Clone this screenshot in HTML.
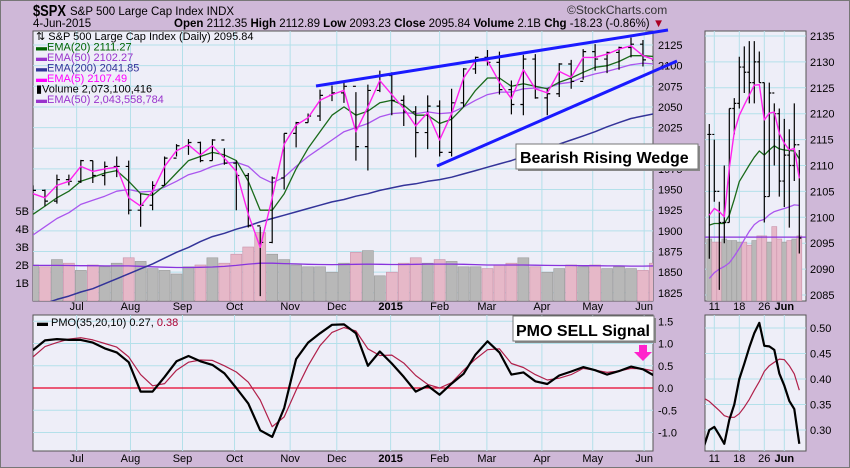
<!DOCTYPE html>
<html><head><meta charset="utf-8"><style>
html,body{margin:0;padding:0;background:#cfb8d8;}
svg{display:block;font-family:"Liberation Sans",sans-serif;}
</style></head><body>
<svg id="c" width="850" height="468" viewBox="0 0 850 468" xmlns="http://www.w3.org/2000/svg">
<defs>
<clipPath id="cm"><rect x="33" y="31" width="620" height="270"/></clipPath>
<clipPath id="cs"><rect x="705" y="31" width="101" height="270"/></clipPath>
<clipPath id="cp"><rect x="33" y="315" width="620" height="136"/></clipPath>
<clipPath id="cps"><rect x="705" y="315" width="101" height="136"/></clipPath>
</defs>
<rect x="0.5" y="0.5" width="849" height="467" fill="#cfb8d8" stroke="#777"/>
<g>
<text x="33" y="16" font-size="16" font-weight="bold" fill="#000" textLength="33" lengthAdjust="spacingAndGlyphs">$SPX</text>
<text x="70" y="15" font-size="11.5" fill="#000">S&amp;P 500 Large Cap Index  INDX</text>
<text x="33" y="27" font-size="11.5" fill="#000">4-Jun-2015</text>
<text x="174" y="27" font-size="11.5" fill="#000"><tspan font-weight="bold">Open</tspan> 2112.35 <tspan font-weight="bold">High</tspan> 2112.89 <tspan font-weight="bold">Low</tspan> 2093.23 <tspan font-weight="bold">Close</tspan> 2095.84 <tspan font-weight="bold">Volume</tspan> 2.1B <tspan font-weight="bold">Chg</tspan> -18.23 (-0.86%) <tspan fill="#aa0022">▼</tspan></text>
<text x="567" y="14" font-size="12" fill="#333">©StockCharts.com</text>
</g>
<rect x="33" y="31" width="620" height="270" fill="#eeeef8" stroke="#555"/>
<rect x="705" y="31" width="101" height="270" fill="#eeeef8" stroke="#555"/>
<rect x="33" y="315" width="620" height="136" fill="#eeeef8" stroke="#555"/>
<rect x="705" y="315" width="101" height="136" fill="#eeeef8" stroke="#555"/>
<g id="grid"></g>
<g id="vol" clip-path="url(#cm)"></g>
<g id="price" clip-path="url(#cm)"></g>
<g id="svol" clip-path="url(#cs)"></g>
<g id="sprice" clip-path="url(#cs)"></g>
<g id="pmo" clip-path="url(#cp)"></g>
<g id="spmo" clip-path="url(#cps)"></g>
<g id="axes" font-size="11" fill="#000"></g>
<g font-size="11">
<text x="36" y="40" fill="#000">⇅ S&amp;P 500 Large Cap Index (Daily) 2095.84</text>
<text x="36" y="50.5" fill="#006400">▬EMA(20) 2111.27</text>
<text x="36" y="61" fill="#9933cc">▬EMA(50) 2102.27</text>
<text x="36" y="71.5" fill="#333399">▬EMA(200) 2041.85</text>
<text x="36" y="82" fill="#ff00ff">▬EMA(5) 2107.49</text>
<text x="36" y="92.5" fill="#000">▮Volume 2,073,100,416</text>
<text x="36" y="103" fill="#9933cc">▬EMA(50) 2,043,558,784</text>
</g>
<text x="37" y="326" font-size="11" fill="#000">▬ PMO(35,20,10) 0.27, <tspan fill="#aa0033">0.38</tspan></text>
<line x1="316" y1="86" x2="668" y2="30" stroke="#1a1aff" stroke-width="3"/>
<line x1="437" y1="166" x2="677" y2="61" stroke="#1a1aff" stroke-width="3"/>
<g>
<rect x="518" y="146" width="182" height="25" fill="#888"/>
<rect x="516" y="144" width="182" height="25" fill="#fff" stroke="#777"/>
<text x="520" y="163" font-size="16" font-weight="bold" fill="#000">Bearish Rising Wedge</text>
</g>
<g>
<rect x="515" y="318" width="141" height="25" fill="#888"/>
<rect x="513" y="316" width="141" height="25" fill="#fff" stroke="#777"/>
<text x="516" y="336" font-size="16" font-weight="bold" fill="#000">PMO SELL Signal</text>
</g>
<path d="M639 345 H647 V352 H652 L643 361 L634 352 H639 Z" fill="#ff22cc"/>
</svg>
<script>
// ---- main chart weekly data ----
const closes=[1949,1936,1962,1960,1985,1967,1978,1978,1925,1931,1955,1988,2003,2007,1985,2010,1982,1967,1906,1886,1964,2018,2031,2039,2064,2067,2075,2002,2070,2088,2058,2044,2019,2051,1995,2055,2096,2110,2104,2071,2053,2108,2061,2066,2102,2081,2117,2108,2116,2122,2126,2107,2096];
const highs=[1955,1950,1968,1968,1986,1985,1984,1990,1985,1945,1960,1990,2005,2011,2008,2011,2000,1985,1970,1905,1966,2018,2032,2042,2071,2076,2079,2068,2077,2094,2092,2064,2051,2064,2058,2072,2097,2111,2119,2117,2082,2113,2114,2072,2103,2107,2120,2126,2117,2123,2134,2131,2121];
const lows=[1925,1930,1933,1955,1958,1958,1955,1965,1920,1905,1925,1955,1990,1992,1983,1985,1980,1925,1904,1821,1885,1950,2001,2031,2033,2057,2055,1985,1973,2068,2040,2027,1989,1999,1990,1990,2050,2090,2100,2065,2041,2040,2060,2040,2062,2072,2083,2094,2091,2095,2110,2099,2093];
const ema5=[1945,1940,1955,1960,1978,1972,1975,1977,1940,1930,1948,1978,1997,2004,1992,2003,1988,1972,1920,1880,1940,2005,2028,2037,2058,2065,2070,2020,2050,2082,2065,2048,2027,2043,2010,2042,2085,2106,2106,2080,2060,2095,2072,2067,2093,2086,2110,2110,2114,2120,2124,2112,2107];
const ema20=[1920,1930,1940,1948,1960,1965,1970,1973,1960,1945,1943,1955,1970,1985,1990,1995,1992,1985,1960,1925,1925,1945,1975,2000,2020,2040,2050,2040,2045,2055,2058,2052,2040,2040,2030,2035,2050,2070,2085,2085,2075,2078,2075,2072,2080,2085,2092,2098,2100,2105,2112,2112,2111];
const ema50=[1895,1905,1915,1922,1932,1937,1942,1948,1950,1947,1948,1953,1960,1968,1972,1978,1982,1983,1978,1965,1958,1965,1978,1990,2000,2010,2020,2025,2030,2038,2042,2043,2042,2044,2042,2043,2050,2058,2065,2068,2068,2072,2073,2073,2078,2080,2086,2090,2093,2097,2101,2103,2102];
const ema200=[1808,1812,1817,1821,1826,1830,1836,1842,1848,1854,1860,1867,1874,1880,1887,1893,1897,1902,1906,1911,1915,1919,1923,1927,1931,1935,1938,1942,1945,1949,1952,1955,1957,1960,1962,1965,1969,1973,1977,1981,1985,1990,1995,2000,2005,2010,2015,2020,2026,2031,2036,2039,2042];
const volumes=[2.0,1.9,2.3,2.1,1.7,2.0,1.9,2.1,2.4,2.2,1.8,1.7,1.5,1.9,2.0,2.4,2.1,2.6,3.0,3.8,2.6,2.3,2.0,1.9,1.9,1.6,2.1,2.7,2.8,1.4,1.6,2.1,2.4,2.1,2.3,2.2,1.9,1.9,1.8,2.0,2.1,2.4,1.9,1.6,1.8,2.0,1.9,2.0,1.8,1.9,1.8,1.7,2.1];
const volEma=[1.98,1.98,1.98,1.97,1.96,1.96,1.95,1.95,1.95,1.93,1.9,1.88,1.86,1.86,1.87,1.89,1.92,1.98,2.05,2.1,2.1,2.08,2.06,2.04,2.03,2.02,2.03,2.04,2.05,2.04,2.03,2.03,2.04,2.05,2.05,2.05,2.04,2.02,2.0,2.0,2.0,2.0,1.99,1.98,1.97,1.97,1.96,1.96,1.95,1.95,1.94,1.94,1.95];
const pmo=[0.85,1.07,1.1,1.08,1.08,1.02,0.89,0.8,0.58,-0.08,-0.08,0.25,0.6,0.72,0.6,0.52,0.33,0.0,-0.35,-0.95,-1.1,-0.45,0.65,1.02,1.23,1.42,1.43,1.23,0.5,0.82,0.55,0.25,-0.08,0.05,-0.15,0.1,0.32,0.75,1.05,0.8,0.3,0.35,0.15,0.09,0.28,0.37,0.47,0.4,0.3,0.38,0.48,0.42,0.27];
const pmoSignal=[0.7,0.93,1.02,1.1,1.13,1.08,1.0,0.92,0.7,0.3,0.05,0.1,0.4,0.58,0.63,0.62,0.5,0.36,0.13,-0.27,-0.87,-0.65,-0.05,0.5,0.95,1.25,1.36,1.28,0.88,0.73,0.74,0.56,0.28,0.08,0.0,0.12,0.4,0.65,0.86,0.88,0.55,0.46,0.3,0.18,0.22,0.3,0.44,0.4,0.35,0.38,0.44,0.43,0.38];
const priceTicks=[2125,2100,2075,2050,2025,2000,1975,1950,1925,1900,1875,1850,1825];
const volTicks=["1B","2B","3B","4B","5B"];
const pmoTicks=[1.5,1.0,0.5,0.0,-0.5,-1.0];
const months=["Jul","Aug","Sep","Oct","Nov","Dec","2015","Feb","Mar","Apr","May","Jun"];
const monthWeek=[3.65,8.15,12.5,16.85,21.5,25.4,29.9,34.0,37.95,42.55,46.8,51.1];
// ---- side panel daily data (May 8 - Jun 4) ----
const sHigh=[2118,2115,2103,2110,2121,2123,2131,2133,2134,2134,2132,2126,2126,2122,2121,2119,2117,2122,2113];
const sLow=[2092,2103,2086,2095,2099,2116,2121,2124,2122,2122,2126,2099,2104,2110,2104,2102,2098,2107,2093];
const sClose=[2116,2105,2099,2099,2121,2122,2129,2128,2126,2130,2126,2104,2124,2120,2107,2112,2110,2114,2096];
const sEma5=[2100.4,2101.7,2101.1,2100.1,2109.5,2116.5,2119.7,2121.7,2123.6,2125.5,2125.6,2118.8,2120.1,2120.3,2116.2,2114.3,2113.0,2113.3,2107.5];
const sEma20=[2098.5,2098.8,2098.8,2098.8,2100.4,2103.5,2106.9,2108.5,2110.1,2111.6,2112.8,2112.0,2113.0,2113.8,2113.2,2113.0,2112.9,2112.8,2111.3];
const sEma50=[2088.2,2089.3,2090.0,2090.5,2091.2,2092.5,2094.0,2095.7,2097.3,2098.6,2099.3,2099.6,2100.5,2101.1,2101.4,2101.7,2102.0,2102.4,2102.3];
const sVol=[2.0,1.9,1.9,2.0,1.95,1.95,1.9,1.9,1.8,1.95,2.1,2.1,1.9,2.4,2.0,1.9,1.95,2.0,2.1];
const sPmo=[0.27,0.30,0.306,0.29,0.273,0.32,0.35,0.40,0.43,0.462,0.49,0.51,0.465,0.464,0.457,0.411,0.387,0.357,0.341,0.273];
const sPmoSignal=[0.362,0.356,0.347,0.338,0.328,0.325,0.325,0.332,0.345,0.36,0.378,0.395,0.415,0.426,0.433,0.439,0.438,0.426,0.41,0.378];
const sPriceTicks=[2135,2130,2125,2120,2115,2110,2105,2100,2095,2090,2085];
const sPmoTicks=[0.50,0.45,0.40,0.35,0.30];
const sDays=["11","18","26","Jun"];
const sDayIdx=[1,6,11,15];

const NS="http://www.w3.org/2000/svg";
function mk(tag,attrs,parent){const e=document.createElementNS(NS,tag);for(const k in attrs)e.setAttribute(k,attrs[k]);parent.appendChild(e);return e;}
const xW=i=>33+i*11.96;
const yP=p=>45+(2125-p)*0.826;
const yV=v=>301-v*18;
const yM=v=>388-v*44.5;
const xS=i=>709.3+i*5;
const xSP=k=>704.3+k*5;
const yS=p=>36+(2135-p)*5.18;
const ySV=v=>301-v*31;
const ySM=v=>328+(0.5-v)*510;

const grid=document.getElementById('grid');
const axes=document.getElementById('axes');
const GC="#b4e0ea";
priceTicks.forEach(p=>{const l=mk('line',{x1:33,x2:653,y1:yP(p),y2:yP(p),stroke:GC},grid);


const t=mk('text',{x:658,y:yP(p)+4},axes);t.textContent=p;

});
volTicks.forEach((s,i)=>{const t=mk('text',{x:29,y:yV(i+1)+4,'text-anchor':'end'},axes);t.textContent=s;

});
pmoTicks.forEach(v=>{const l=mk('line',{x1:33,x2:653,y1:yM(v),y2:yM(v),stroke:GC},grid);


const t=mk('text',{x:658,y:yM(v)+4},axes);t.textContent=v.toFixed(1);

});
months.forEach((m,i)=>{const x=xW(monthWeek[i]);
[[31,301],[315,451]].forEach(r=>{const l=mk('line',{x1:x,x2:x,y1:r[0],y2:r[1],stroke:GC},grid);

});
[310,462].forEach(y=>{const t=mk('text',{x:x,y:y,'text-anchor':'middle','font-weight':m==="2015"?'bold':'normal'},axes);t.textContent=m;

});});
sPriceTicks.forEach(p=>{const l=mk('line',{x1:705,x2:806,y1:yS(p),y2:yS(p),stroke:GC},grid);


const t=mk('text',{x:810,y:yS(p)+4},axes);t.textContent=p;

});
sPmoTicks.forEach(v=>{const l=mk('line',{x1:705,x2:806,y1:ySM(v),y2:ySM(v),stroke:GC},grid);


const t=mk('text',{x:810,y:ySM(v)+4},axes);t.textContent=v.toFixed(2);

});
sDays.forEach((d,i)=>{const x=xS(sDayIdx[i]);
[[31,301],[315,451]].forEach(r=>{const l=mk('line',{x1:x,x2:x,y1:r[0],y2:r[1],stroke:GC},grid);

});
[310,462].forEach(y=>{const t=mk('text',{x:x,y:y,'text-anchor':'middle','font-weight':d==="Jun"?'bold':'normal'},axes);t.textContent=d;

});});

function line(g,xs,ys,vals,col,w,name){const d=vals.map((v,i)=>(i?'L':'M')+xs(i).toFixed(1)+' '+ys(v).toFixed(1)).join(' ');
const p=mk('path',{d:d,fill:'none',stroke:col,'stroke-width':w,'stroke-linejoin':'round'},g);

}
const vol=document.getElementById('vol');
volumes.forEach((v,i)=>{const up=i===0||closes[i]>=closes[i-1];
const r=mk('rect',{x:xW(i)-5.5,y:yV(v),width:11,height:301-yV(v),fill:up?'#b8b8b8':'#e6b8c8',stroke:up?'#999':'#c890a8','stroke-width':0.6},vol);

});
line(vol,xW,yV,volEma,'#8833dd',1.3,'volume-ema50-line');
const pr=document.getElementById('price');
line(pr,xW,yP,ema200,'#333399',1.5,'ema200-line');
line(pr,xW,yP,ema50,'#aa55ee',1.3,'ema50-line');
line(pr,xW,yP,ema20,'#1a6a1a',1.3,'ema20-line');
closes.forEach((c,i)=>{const x=xW(i);const o=i?closes[i-1]:c;
const g=mk('path',{d:`M${x} ${yP(highs[i])}V${yP(lows[i])}M${x-3} ${yP(o)}H${x}M${x} ${yP(c)}H${x+3}`,stroke:'#000','stroke-width':1.2,fill:'none'},pr);

});
line(pr,xW,yP,ema5,'#ff22ee',1.4,'ema5-line');
const sv=document.getElementById('svol');
sVol.forEach((v,i)=>{const up=i===0||sClose[i]>=sClose[i-1];
const r=mk('rect',{x:xS(i)-2.5,y:ySV(v),width:5,height:301-ySV(v),fill:up?'#b8b8b8':'#e6b8c8',stroke:up?'#999':'#c890a8','stroke-width':0.6},sv);

});
const sVolEma=[2.06];
const sl=mk('line',{x1:705,x2:806,y1:ySV(sVolEma[0]),y2:ySV(sVolEma[0]),stroke:'#8833dd','stroke-width':1.3},sv);


const sp=document.getElementById('sprice');
line(sp,xS,yS,sEma50,'#aa55ee',1.3,'side-ema50-line');
line(sp,xS,yS,sEma20,'#1a6a1a',1.3,'side-ema20-line');
sClose.forEach((c,i)=>{const x=xS(i);const o=i?sClose[i-1]:c;
const g=mk('path',{d:`M${x} ${yS(sHigh[i])}V${yS(sLow[i])}M${x-2} ${yS(o)}H${x}M${x} ${yS(c)}H${x+2}`,stroke:'#000','stroke-width':1.2,fill:'none'},sp);

});
line(sp,xS,yS,sEma5,'#ff22ee',1.4,'side-ema5-line');
const pm=document.getElementById('pmo');
const zl=mk('line',{x1:33,x2:653,y1:yM(0),y2:yM(0),stroke:'#e8002a','stroke-width':1.3},pm);


line(pm,xW,yM,pmoSignal,'#b0204a',1.2,'pmo-signal-line');
line(pm,xW,yM,pmo,'#000',2.2,'pmo-line');
const spm=document.getElementById('spmo');
line(spm,xSP,ySM,sPmoSignal,'#b0204a',1.2,'side-pmo-signal-line');
line(spm,xSP,ySM,sPmo,'#000',2.2,'side-pmo-line');
</script>
</body></html>
